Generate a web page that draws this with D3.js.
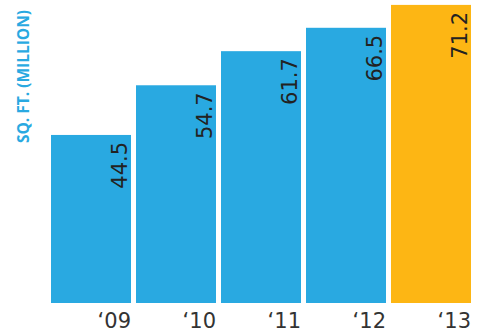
<!DOCTYPE html>
<html>
<head>
<meta charset="utf-8">
<script src="https://cdn.jsdelivr.net/npm/d3@7"></script>
<style>
  html, body { margin: 0; padding: 0; background: #fff; }
  svg { display: block; }
</style>
</head>
<body>
<svg id="chart" width="483" height="334"></svg>
<script>
// Retail floor space by year
const years = ["‘09", "‘10", "‘11", "‘12", "‘13"];
const values = [44.5, 54.7, 61.7, 66.5, 71.2];
const barColors = ["#29a9e1", "#29a9e1", "#29a9e1", "#29a9e1", "#fdb614"];
const axisTitle = "SQ. FT. (MILLION)";

const svg = d3.select("#chart");
const baseY = 303;

const x = d3.scaleBand()
  .domain(years)
  .range([48.5, 473.5])
  .paddingInner(5 / 85)
  .paddingOuter(2.5 / 85);

const y = d3.scaleLinear()
  .domain([10, 72])
  .range([baseY, 1]);

// bars
svg.selectAll("rect.bar")
  .data(values)
  .join("rect")
  .attr("class", "bar")
  .attr("x", (d, i) => x(years[i]))
  .attr("width", x.bandwidth())
  .attr("y", d => y(d))
  .attr("height", d => baseY - y(d))
  .attr("fill", (d, i) => barColors[i]);

// value labels, rotated and tucked under each bar top
svg.selectAll("text.val")
  .data(values)
  .join("text")
  .attr("class", "val")
  .attr("transform", (d, i) => `translate(${x(years[i]) + x.bandwidth() - 4},${y(d) + 7}) rotate(-90)`)
  .attr("text-anchor", "end")
  .attr("font-family", "DejaVu Sans, sans-serif")
  .attr("font-size", 21)
  .attr("fill", "#222")
  .text(d => d.toFixed(1));

// year axis
const xAxis = d3.axisBottom(x).tickSize(0).tickPadding(0);
const gx = svg.append("g")
  .attr("transform", `translate(0,${baseY})`)
  .call(xAxis);
gx.select(".domain").remove();
gx.selectAll(".tick text")
  .attr("x", x.bandwidth() / 2)
  .attr("y", 25)
  .attr("dy", 0)
  .attr("text-anchor", "end")
  .attr("font-family", "DejaVu Sans, sans-serif")
  .attr("font-size", 21)
  .attr("fill", "#333");

// vertical axis title
svg.append("text")
  .attr("transform", "translate(29,10) rotate(-90)")
  .attr("text-anchor", "end")
  .attr("font-family", "Open Sans, sans-serif")
  .attr("font-weight", 700)
  .attr("font-size", 15.5)
  .attr("fill", "#29a9e1")
  .text(axisTitle);
</script>
</body>
</html>
